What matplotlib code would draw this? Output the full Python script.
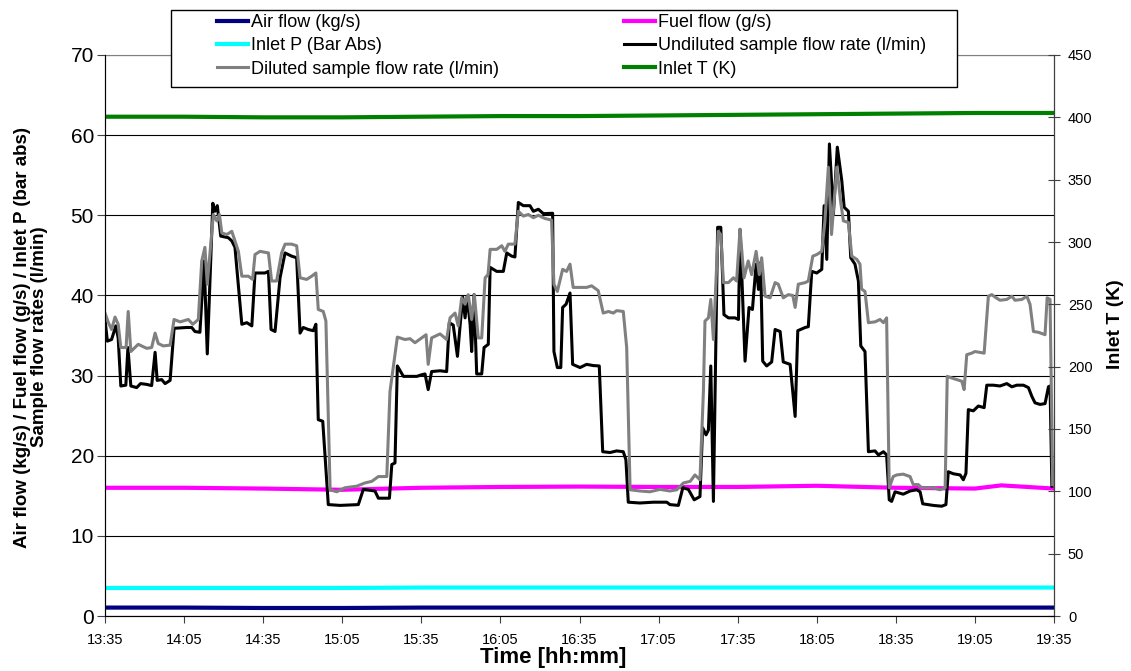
import matplotlib
matplotlib.use('Agg')
import matplotlib.pyplot as plt
from matplotlib.patches import Rectangle

plt.rcParams['font.family'] = ['Liberation Sans', 'DejaVu Sans']

# time axis: minutes after 13:35
tick_minutes = list(range(0, 361, 30))
tick_labels = ['13:35', '14:05', '14:35', '15:05', '15:35', '16:05', '16:35',
               '17:05', '17:35', '18:05', '18:35', '19:05', '19:35']

# (minute, l/min)
undiluted = [
    (0, 37.0), (0.9, 34.3), (2.5, 34.5), (4.1, 36.2), (5.0, 34.7), (6.0, 28.7), (7.9, 28.8),
    (8.7, 33.5), (9.8, 28.7), (12.0, 28.5), (13.5, 29.0), (15.8, 28.9), (17.7, 28.75),
    (19.0, 32.9), (19.8, 29.4), (21.5, 29.5), (22.8, 29.0), (24.7, 29.4), (26.2, 35.9),
    (31.0, 36.0), (32.9, 36.0), (34.1, 35.5), (36.0, 35.4), (37.6, 44.3), (38.8, 32.7),
    (40.9, 51.5), (41.7, 50.5), (42.6, 51.2), (43.9, 47.4), (46.8, 47.2), (48.1, 46.8),
    (49.3, 46.0), (51.9, 36.4), (53.8, 36.6), (55.7, 36.2), (56.9, 42.8), (60.7, 42.8),
    (62.0, 43.0), (63.0, 35.75), (64.5, 35.5), (66.4, 42.2), (68.3, 45.3), (70.8, 44.9),
    (72.7, 44.7), (74.0, 35.3), (75.2, 36.0), (77.1, 35.75), (79.0, 35.6), (80.0, 36.4),
    (80.9, 24.5), (82.6, 24.3), (84.7, 13.9), (89.2, 13.8), (96.1, 13.9), (98.0, 15.8),
    (102.4, 15.6), (103.7, 14.7), (107.9, 14.7), (108.8, 18.9), (110.0, 19.1), (110.9, 31.2),
    (113.2, 29.9), (118.3, 29.9), (120.1, 30.1), (121.4, 30.2), (122.6, 28.25), (123.9, 30.5),
    (127.1, 30.6), (129.6, 30.5), (130.6, 36.6), (132.1, 36.3), (133.7, 32.4), (134.7, 36.2),
    (135.7, 39.8), (136.6, 37.2), (137.4, 39.9), (138.5, 36.4), (139.1, 33.0), (140.0, 40.1),
    (141.0, 30.2), (142.9, 30.2), (143.8, 33.5), (145.4, 33.9), (146.1, 43.5), (148.6, 43.0),
    (151.1, 43.0), (152.4, 45.3), (154.3, 44.9), (155.5, 44.8), (156.8, 51.6), (158.7, 51.2),
    (161.2, 51.2), (162.5, 50.5), (164.4, 50.75), (166.3, 50.2), (169.8, 50.25), (170.3, 33.0),
    (171.6, 31.0), (172.9, 31.0), (173.6, 38.5), (174.9, 38.9), (176.4, 40.3), (177.4, 31.4),
    (180.2, 31.0), (182.7, 31.4), (185.2, 31.25), (187.5, 31.2), (188.8, 20.5), (191.6, 20.4),
    (194.1, 20.6), (196.6, 20.5), (197.6, 19.5), (198.5, 14.2), (202.9, 14.1), (208.0, 14.2),
    (213.1, 14.2), (214.3, 13.9), (217.5, 13.8), (219.2, 16.0), (221.3, 15.8), (223.5, 14.5),
    (225.7, 14.9), (226.7, 23.5), (228.0, 22.6), (228.9, 23.2), (229.8, 31.2), (230.8, 14.3),
    (232.4, 48.5), (233.6, 48.5), (234.8, 37.6), (236.5, 37.2), (239.0, 37.2), (240.3, 37.0),
    (240.9, 48.25), (242.8, 31.8), (244.3, 38.5), (245.6, 38.25), (247.0, 43.9), (247.9, 40.75),
    (248.7, 44.1), (249.5, 31.8), (251.0, 31.2), (252.9, 31.7), (254.2, 35.75), (256.1, 35.5),
    (257.3, 31.7), (259.9, 31.4), (261.8, 24.9), (262.8, 35.6), (265.6, 36.0), (266.8, 36.1),
    (268.1, 43.0), (270.0, 42.8), (271.9, 43.25), (272.8, 51.2), (273.8, 44.5), (274.8, 58.9),
    (276.3, 50.1), (277.8, 58.5), (279.5, 54.3), (280.4, 51.0), (282.0, 50.5), (282.9, 44.7),
    (284.5, 43.9), (285.8, 41.8), (286.7, 33.7), (288.3, 33.0), (289.6, 20.5), (292.1, 20.6),
    (293.4, 20.1), (295.3, 20.5), (296.5, 20.1), (297.5, 14.5), (298.4, 14.3), (299.7, 15.5),
    (302.8, 15.2), (305.4, 15.6), (307.9, 15.75), (309.2, 15.5), (310.2, 14.0), (314.2, 13.8),
    (317.4, 13.7), (319.0, 13.9), (319.9, 18.0), (321.8, 17.75), (324.4, 17.6), (325.6, 17.0),
    (326.6, 17.8), (327.5, 25.75), (329.4, 25.6), (331.3, 26.2), (333.5, 26.0), (334.5, 28.8),
    (337.0, 28.8), (339.5, 28.7), (342.1, 29.0), (344.0, 28.6), (345.9, 28.8), (348.4, 28.8),
    (350.3, 28.5), (351.6, 27.4), (352.8, 26.6), (354.7, 26.4), (356.6, 26.5), (357.9, 28.6),
    (358.5, 28.7), (359.2, 16.2),
]

diluted = [
    (0, 37.8), (1.3, 36.6), (2.5, 35.75), (3.8, 37.3), (5.0, 36.4), (6.0, 33.5), (8.0, 33.5),
    (8.8, 38.0), (9.8, 33.0), (12.6, 33.9), (15.8, 33.4), (17.7, 33.5), (19.0, 35.3),
    (20.2, 34.0), (22.1, 33.7), (24.7, 33.8), (26.2, 37.0), (28.5, 36.7), (31.6, 37.0),
    (33.3, 36.4), (35.4, 37.0), (36.7, 44.3), (37.9, 46.0), (38.8, 41.4), (41.1, 50.1),
    (42.4, 49.3), (43.4, 50.1), (44.3, 47.8), (46.2, 47.6), (48.1, 48.0), (49.3, 46.8),
    (50.6, 45.5), (51.9, 42.4), (54.4, 42.4), (56.0, 42.0), (56.9, 45.1), (58.8, 45.5),
    (62.0, 45.3), (63.2, 41.8), (65.1, 41.8), (67.0, 45.3), (68.3, 46.4), (70.8, 46.4),
    (72.7, 46.2), (74.0, 42.2), (76.5, 42.0), (78.4, 42.4), (80.0, 42.8), (80.9, 38.25),
    (82.8, 38.0), (83.8, 36.8), (85.4, 15.75), (87.9, 15.5), (91.0, 16.0), (95.5, 16.2),
    (98.6, 16.6), (101.2, 16.8), (103.7, 17.4), (106.9, 17.4), (108.1, 28.0), (110.9, 34.8),
    (113.8, 34.5), (115.7, 34.6), (117.6, 34.1), (120.1, 34.7), (121.8, 35.1), (122.6, 31.4),
    (123.9, 34.7), (127.1, 35.2), (129.6, 34.5), (130.9, 37.2), (132.8, 37.8), (134.0, 36.2),
    (135.3, 39.7), (136.6, 38.9), (137.8, 40.1), (139.1, 37.0), (140.1, 40.1), (141.6, 34.7),
    (142.9, 34.7), (144.2, 42.2), (145.3, 42.6), (146.1, 45.75), (148.6, 45.75), (150.5, 46.2),
    (151.7, 45.5), (153.0, 46.4), (155.5, 46.4), (156.8, 50.5), (158.7, 49.9), (160.6, 50.1),
    (162.5, 49.7), (164.4, 50.0), (166.9, 49.6), (169.4, 49.4), (170.3, 41.4), (171.6, 40.5),
    (173.6, 43.25), (175.1, 43.0), (176.4, 43.9), (177.6, 41.0), (180.2, 41.0), (182.7, 41.0),
    (184.6, 41.2), (187.1, 40.6), (189.0, 37.8), (191.0, 38.0), (192.8, 37.8), (194.1, 38.1),
    (196.6, 38.0), (197.9, 33.5), (199.2, 15.75), (202.9, 15.6), (206.7, 15.5), (210.5, 15.8),
    (214.3, 15.6), (216.9, 15.75), (219.4, 16.6), (222.0, 16.8), (223.8, 17.6), (225.7, 17.0),
    (227.0, 28.0), (227.6, 36.8), (228.9, 37.2), (229.8, 39.5), (230.8, 34.5), (232.6, 48.0),
    (233.6, 47.6), (234.6, 41.6), (236.5, 41.6), (238.4, 42.2), (239.6, 41.8), (240.9, 48.25),
    (242.4, 42.2), (244.0, 44.3), (245.3, 42.6), (247.0, 45.5), (248.2, 42.6), (249.1, 44.7),
    (250.4, 39.9), (252.3, 39.7), (254.2, 41.6), (255.4, 41.4), (257.3, 39.7), (259.2, 40.1),
    (260.9, 40.0), (261.8, 38.5), (263.0, 41.4), (265.6, 41.6), (266.8, 41.8), (268.5, 44.9),
    (270.0, 45.1), (271.9, 45.5), (273.1, 49.3), (274.4, 56.0), (275.6, 47.6), (277.6, 56.0),
    (279.1, 51.6), (280.1, 49.3), (282.0, 49.1), (283.3, 44.9), (285.2, 44.5), (286.4, 43.9),
    (287.0, 40.8), (288.3, 40.5), (289.6, 36.6), (292.1, 36.7), (294.0, 37.0), (295.3, 36.6),
    (296.5, 37.2), (297.5, 16.0), (299.0, 17.4), (300.3, 17.6), (302.8, 17.7), (305.4, 17.4),
    (306.6, 16.4), (308.5, 16.4), (309.8, 16.0), (314.2, 16.0), (316.7, 15.75), (318.7, 16.0),
    (319.5, 29.9), (321.2, 29.7), (323.1, 29.5), (325.0, 29.3), (325.9, 28.25), (326.9, 32.6),
    (328.8, 32.8), (330.0, 33.0), (333.5, 32.8), (335.1, 39.9), (336.4, 40.1), (337.6, 39.8),
    (339.5, 39.4), (342.1, 39.5), (344.0, 39.9), (345.2, 39.4), (347.8, 39.5), (349.7, 39.9),
    (350.9, 38.9), (352.2, 35.5), (354.1, 35.4), (356.6, 35.1), (357.4, 39.7), (358.5, 39.5),
    (359.5, 16.4),
]

# slow channels, read every half hour or so
slow_minutes = [0, 30, 60, 90, 120, 150, 180, 210, 240, 270, 300, 330, 340, 360]
fuel_flow = [16.0, 16.0, 15.9, 15.75, 16.0, 16.1, 16.15, 16.1, 16.1, 16.25, 16.0, 15.9, 16.3, 15.9]
air_flow = [1.05, 1.05, 1.0, 1.0, 1.05, 1.05, 1.05, 1.05, 1.05, 1.05, 1.05, 1.05, 1.05, 1.05]
inlet_p = [3.5, 3.5, 3.5, 3.5, 3.55, 3.55, 3.55, 3.55, 3.55, 3.55, 3.55, 3.55, 3.55, 3.55]
inlet_t = [400.5, 400.5, 400, 400, 400.5, 401, 401, 401.5, 402, 402.5, 403, 403.5, 403.5, 403.5]

fig = plt.figure(figsize=(11.31, 6.71), dpi=100)
ax = fig.add_axes([105 / 1131, 55 / 671, 949 / 1131, 561 / 671])

h_air, = ax.plot(slow_minutes, air_flow, color='#000080', lw=3)
h_fuel, = ax.plot(slow_minutes, fuel_flow, color='#ff00ff', lw=3)
h_p, = ax.plot(slow_minutes, inlet_p, color='#00ffff', lw=3)
h_und, = ax.plot([p[0] for p in undiluted], [p[1] for p in undiluted], color='black', lw=2.2)
h_dil, = ax.plot([p[0] for p in diluted], [p[1] for p in diluted], color='#808080', lw=2.2)

ax.set_xlim(0, 360)
ax.set_ylim(0, 70)
ax.set_xticks(tick_minutes)
ax.set_xticklabels(tick_labels)
ax.set_yticks(range(0, 71, 10))
ax.yaxis.grid(True, color='black', lw=0.8)
ax.set_axisbelow(True)
ax.tick_params(axis='y', labelsize=15, direction='out', length=6, pad=2, color='#404040')
ax.tick_params(axis='x', labelsize=10.5, direction='out', length=5, pad=7, color='#404040')
for side in ['left', 'bottom']:
    ax.spines[side].set_color('#404040')
ax.spines['top'].set_color('#808080')

ax2 = ax.twinx()
h_t, = ax2.plot(slow_minutes, inlet_t, color='#008000', lw=3)
ax2.set_ylim(0, 450)
ax2.set_yticks(range(0, 451, 50))
ax2.tick_params(axis='y', labelsize=10.5, direction='inout', length=8, pad=6, color='#404040')
ax2.spines['right'].set_color('#404040')
ax2.spines['top'].set_visible(False)

fig.text(1116 / 1131, 1 - 324 / 671, 'Inlet T (K)', rotation=90, ha='center', va='center',
         fontsize=14, fontweight='bold')
fig.text(31 / 1131, 1 - 337 / 671,
         'Air flow (kg/s) / Fuel flow (g/s) / Inlet P (bar abs)\nSample flow rates (l/min)',
         rotation=90, ha='center', va='center', multialignment='center',
         fontsize=13.5, fontweight='bold', linespacing=1.0)
fig.text(553 / 1131, 1 - 658 / 671, 'Time [hh:mm]', ha='center', va='center',
         fontsize=16, fontweight='bold')

# legend box
fig.add_artist(Rectangle((171 / 1131, 1 - 87 / 671), 786 / 1131, 77 / 671,
                         transform=fig.transFigure, facecolor='white', edgecolor='black',
                         lw=1, zorder=3))
leg_kw = dict(loc='upper left', frameon=False, fontsize=13, handlelength=1.7,
              handletextpad=0.2, labelspacing=0.35, borderpad=0, borderaxespad=0)
fig.legend([h_air, h_p, h_dil],
           ['Air flow (kg/s)', 'Inlet P (Bar Abs)', 'Diluted sample flow rate (l/min)'],
           bbox_to_anchor=(217 / 1131, 1 - 14 / 671), **leg_kw)
fig.legend([h_fuel, h_und, h_t],
           ['Fuel flow (g/s)', 'Undiluted sample flow rate (l/min)', 'Inlet T (K)'],
           bbox_to_anchor=(624 / 1131, 1 - 14 / 671), **leg_kw)

fig.savefig('out.png', dpi=100)
